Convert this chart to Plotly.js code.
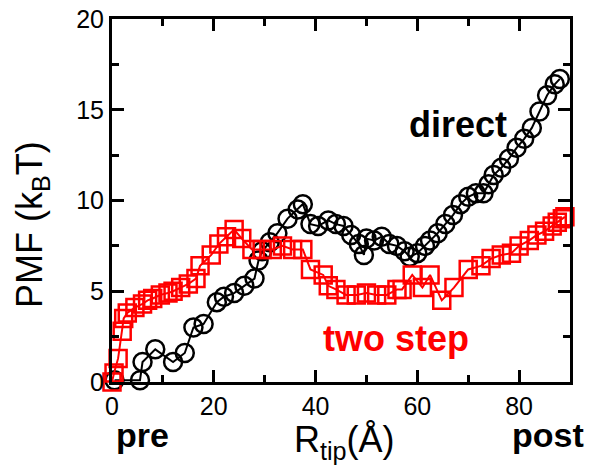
<!DOCTYPE html>
<html><head><meta charset="utf-8">
<script src="https://cdn.plot.ly/plotly-3.0.1.min.js"></script>
<style>html,body{margin:0;padding:0;background:#fff}#chart{width:594px;height:472px}</style>
</head><body><div id="chart"></div>
<script>
// direct pathway
const directR = [0.5, 5.5, 6, 8.5, 12, 14.3, 16, 18, 20.6, 22, 24, 26, 28, 28.8, 29.5, 31, 32.5, 34.5, 36.5, 37.5, 39, 40.5, 42.5, 44, 45.5, 47, 48.5, 49.5, 50, 51.5, 53, 54.5, 56, 57.5, 58.5, 60, 61.5, 62.5, 64, 65.5, 67, 68.5, 70, 71.5, 73, 74, 75, 76.5, 78, 79.5, 81, 82.5, 84, 85.5, 87, 88];
const directPMF = [0.1, 0.1, 1.1, 1.8, 1.1, 1.6, 3.0, 3.2, 4.4, 4.7, 4.9, 5.3, 5.7, 6.7, 7.2, 7.7, 8.2, 9.0, 9.5, 9.8, 8.7, 8.6, 8.9, 8.7, 8.6, 8.1, 7.6, 7.0, 7.9, 7.8, 8.0, 7.6, 7.5, 7.2, 6.9, 7.1, 7.5, 7.8, 8.2, 8.7, 9.2, 9.8, 10.2, 10.4, 10.4, 10.9, 11.4, 11.8, 12.3, 12.9, 13.4, 14.0, 14.9, 15.8, 16.4, 16.7];
// two step pathway
const twoStepR = [0, 0.4, 1.2, 2, 2.3, 3, 4.5, 6, 7, 8, 9.5, 11, 12, 13.5, 15, 16.5, 17.3, 19.5, 21, 22.5, 24, 25.5, 27.5, 29.5, 31.5, 33.5, 35.5, 37.5, 39, 41.5, 42.5, 44, 46, 48, 50, 52, 54, 56, 57, 59, 61, 62.5, 64.8, 67.2, 70, 72.5, 74.5, 76.5, 78.5, 80, 82, 83.5, 85, 86.5, 87.5, 88.5, 89];
const twoStepPMF = [0, 0.5, 1.3, 2.8, 3.5, 3.8, 4.1, 4.3, 4.5, 4.6, 4.8, 4.9, 5.0, 5.2, 5.4, 5.7, 6.4, 7.0, 7.6, 8.0, 8.4, 7.9, 7.3, 7.3, 7.3, 7.5, 7.3, 7.3, 6.2, 5.9, 5.3, 5.1, 4.8, 4.8, 4.9, 4.8, 4.8, 5.1, 5.1, 5.9, 5.2, 5.9, 4.5, 5.2, 6.2, 6.4, 6.8, 7.0, 7.1, 7.5, 7.8, 8.1, 8.3, 8.6, 8.8, 9.0, 9.1];
const xTicks = [0, 20, 40, 60, 80];
const yTicks = [0, 5, 10, 15, 20];

const FONT = 'Liberation Sans, Arial, Helvetica, sans-serif';
const traces = [
  {x: directR, y: directPMF, type: 'scatter', mode: 'lines+markers', cliponaxis: false,
   line: {color: 'black', width: 2},
   marker: {symbol: 'circle-open', size: 18, color: 'black', line: {width: 2.5, color: 'black'}}},
  {x: twoStepR, y: twoStepPMF, type: 'scatter', mode: 'lines+markers', cliponaxis: false,
   line: {color: 'red', width: 2},
   marker: {symbol: 'square-open', size: 17, color: 'red', line: {width: 2.5, color: 'red'}}}
];
const axisCommon = {showline: true, linewidth: 3, linecolor: 'black', mirror: 'allticks',
  ticks: 'inside', ticklen: 12, tickwidth: 3, tickcolor: 'black', showgrid: false, zeroline: false,
  tickfont: {family: FONT, size: 25, color: 'black'}};
const layout = {
  width: 594, height: 472, showlegend: false,
  paper_bgcolor: 'white', plot_bgcolor: 'white',
  margin: {l: 112, r: 24, t: 19, b: 90},
  xaxis: Object.assign({}, axisCommon, {range: [0, 90], tickvals: xTicks, ticktext: xTicks.map(String),
    minor: {dtick: 10, tick0: 0, ticks: 'inside', ticklen: 7, tickwidth: 3, tickcolor: 'black'}}),
  yaxis: Object.assign({}, axisCommon, {range: [0, 20], tickvals: yTicks, ticktext: yTicks.map(String),
    minor: {dtick: 2.5, tick0: 0, ticks: 'inside', ticklen: 7, tickwidth: 3, tickcolor: 'black'}}),
  annotations: [
    {text: 'direct', x: 68, y: 14.2, xref: 'x', yref: 'y', showarrow: false,
     font: {family: FONT, size: 36, color: 'black', weight: 'bold'}},
    {text: 'two step', x: 55.8, y: 2.4, xref: 'x', yref: 'y', showarrow: false,
     font: {family: FONT, size: 36, color: 'red', weight: 'bold'}},
    {text: 'pre', x: 142, y: 435, xref: 'paper', yref: 'paper', showarrow: false,
     font: {family: FONT, size: 34, color: 'black', weight: 'bold'}},
    {text: 'post', x: 548, y: 435, xref: 'paper', yref: 'paper', showarrow: false,
     font: {family: FONT, size: 34, color: 'black', weight: 'bold'}},
    {text: 'R<sub>tip</sub>(Å)', x: 344, y: 442, xref: 'paper', yref: 'paper', showarrow: false,
     font: {family: FONT, size: 36, color: 'black'}},
    {text: 'PMF (k<sub>B</sub>T)', x: 32, y: 225, xref: 'paper', yref: 'paper', showarrow: false, textangle: -90,
     font: {family: FONT, size: 36, color: 'black'}}
  ]
};
// convert pixel positions of paper annotations to paper fractions
const W = 594 - 112 - 24, H = 472 - 19 - 90;
layout.annotations.forEach(a => {
  a.xanchor = 'center'; a.yanchor = 'middle';
  if (a.xref === 'paper') { a.x = (a.x - 112) / W; a.y = (472 - 90 - a.y) / H; }
});
Plotly.newPlot('chart', traces, layout, {displayModeBar: false, staticPlot: true});
</script></body></html>
